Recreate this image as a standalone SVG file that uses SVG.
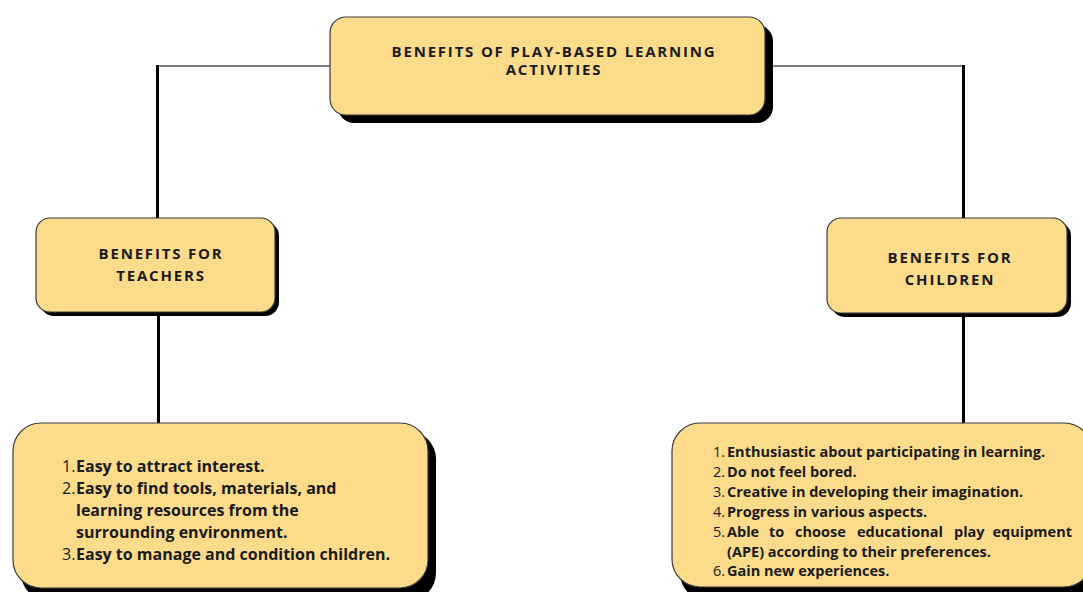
<svg xmlns="http://www.w3.org/2000/svg" width="1083" height="592" viewBox="0 0 1083 592">
  <style>
    .box { fill: #FCDC8B; stroke: #3a3a3a; stroke-width: 1.2; }
    .shadow { fill: #000; }
    .head { font-family: "Open Sans", "Liberation Sans", sans-serif; font-weight: 700; font-size: 15px; letter-spacing: 1.8px; fill: #1a1a1a; text-anchor: middle; }
    .item { font-family: "Open Sans", "Liberation Sans", sans-serif; font-weight: 700; font-size: 16px; fill: #1a1a1a; }
    .small { font-size: 14.5px; }
    .num { font-weight: 400; }
    .thin { stroke: #555; stroke-width: 1.5; fill: none; }
    .thick { stroke: #000; stroke-width: 3; fill: none; }
  </style>

  <!-- connectors -->
  <g id="connectors">
    <path class="thin" d="M157 66 H330"/>
    <path class="thick" d="M157.5 65 V218"/>
    <path class="thin" d="M770 66 H964"/>
    <path class="thick" d="M963.5 65 V218"/>
    <path class="thick" d="M158.5 312 V423"/>
    <path class="thick" d="M963.5 313 V423"/>
  </g>

  <!-- root -->
  <g id="node-root">
    <rect class="shadow" x="338" y="25" width="435" height="98" rx="16"/>
    <rect class="box" x="330" y="17" width="435" height="98" rx="16"/>
    <text class="head" x="554" y="57">BENEFITS OF PLAY-BASED LEARNING</text>
    <text class="head" x="554" y="75">ACTIVITIES</text>
  </g>

  <!-- teachers header -->
  <g id="node-teachers">
    <rect class="shadow" x="40" y="222" width="239" height="94" rx="14"/>
    <rect class="box" x="36" y="218" width="239" height="94" rx="14"/>
    <text class="head" x="161" y="259">BENEFITS FOR</text>
    <text class="head" x="161" y="281">TEACHERS</text>
  </g>

  <!-- children header -->
  <g id="node-children">
    <rect class="shadow" x="831" y="222" width="240" height="95" rx="14"/>
    <rect class="box" x="827" y="218" width="240" height="95" rx="14"/>
    <text class="head" x="950" y="263">BENEFITS FOR</text>
    <text class="head" x="950" y="285">CHILDREN</text>
  </g>

  <!-- teachers list -->
  <g id="node-teachers-list">
    <rect class="shadow" x="21" y="431" width="415" height="170" rx="28"/>
    <rect class="box" x="13" y="423" width="415" height="165" rx="28"/>
    <text class="item"><tspan class="num" x="62" y="472">1.</tspan><tspan x="76" y="472">Easy to attract interest.</tspan></text>
    <text class="item"><tspan class="num" x="62" y="494">2.</tspan><tspan x="76" y="494">Easy to find tools, materials, and</tspan></text>
    <text class="item" x="76" y="516">learning resources from the</text>
    <text class="item" x="76" y="538">surrounding environment.</text>
    <text class="item"><tspan class="num" x="62" y="560">3.</tspan><tspan x="76" y="560">Easy to manage and condition children.</tspan></text>
  </g>

  <!-- children list -->
  <g id="node-children-list">
    <rect class="shadow" x="680" y="431" width="420" height="170" rx="28"/>
    <rect class="box" x="672" y="423" width="420" height="164" rx="28"/>
    <text class="item small"><tspan class="num" x="713" y="457">1.</tspan><tspan x="727" y="457">Enthusiastic about participating in learning.</tspan></text>
    <text class="item small"><tspan class="num" x="713" y="477">2.</tspan><tspan x="727" y="477">Do not feel bored.</tspan></text>
    <text class="item small"><tspan class="num" x="713" y="497">3.</tspan><tspan x="727" y="497">Creative in developing their imagination.</tspan></text>
    <text class="item small"><tspan class="num" x="713" y="517">4.</tspan><tspan x="727" y="517">Progress in various aspects.</tspan></text>
    <!-- justified line: words placed individually -->
    <text class="item small"><tspan class="num" x="713" y="537">5.</tspan><tspan x="727" y="537">Able</tspan><tspan x="769" y="537">to</tspan><tspan x="795" y="537">choose</tspan><tspan x="857" y="537">educational</tspan><tspan x="954" y="537">play</tspan></text>
    <text class="item small" x="1072" y="537" text-anchor="end">equipment</text>
    <text class="item small" x="727" y="557">(APE) according to their preferences.</text>
    <text class="item small"><tspan class="num" x="713" y="576">6.</tspan><tspan x="727" y="576">Gain new experiences.</tspan></text>
  </g>
</svg>
